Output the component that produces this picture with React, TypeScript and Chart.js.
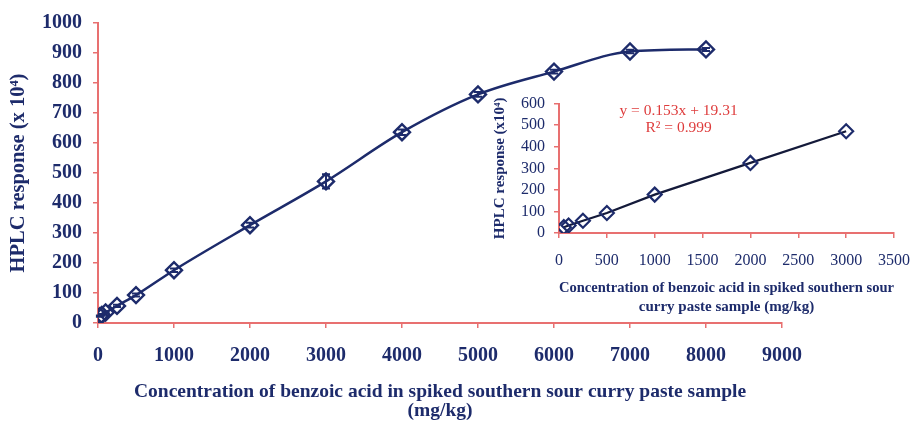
import React, { useEffect, useRef } from "react";
import { Chart, registerables } from "chart.js";

Chart.register(...registerables);

// Main chart data
const concentrations = [25, 50, 100, 250, 500, 1000, 2000, 3000, 4000, 5000, 6000, 7000, 8000];
const responses = [23, 27, 35, 57, 93, 176, 326, 472, 636, 762, 838, 905, 912];
const responseErrors = [2, 3, 3, 4, 5, 6, 8, 24, 9, 8, 6, 6, 5];

// Inset (linear range) data
const insetConcentrations = [50, 100, 250, 500, 1000, 2000, 3000];
const insetResponses = [27, 35, 57, 93, 178, 325, 472];

const mainXTicks = [0, 1000, 2000, 3000, 4000, 5000, 6000, 7000, 8000, 9000];
const mainYTicks = [0, 100, 200, 300, 400, 500, 600, 700, 800, 900, 1000];
const insetXTicks = [0, 500, 1000, 1500, 2000, 2500, 3000, 3500];
const insetYTicks = [0, 100, 200, 300, 400, 500, 600];

const equationLines = ["y = 0.153x + 19.31", "R\u00b2 = 0.999"];

const NAVY = "#1d2b6b";
const AXIS = "rgb(232,112,112)";
const SERIF = "'Liberation Serif', 'DejaVu Serif', serif";

const errorBarPlugin = {
  id: "errorBars",
  afterDatasetsDraw(chart: any) {
    const ds = chart.data.datasets[0];
    const errs: number[] = ds.errors || [];
    const xs = chart.scales.x;
    const ys = chart.scales.y;
    const ctx = chart.ctx;
    ctx.save();
    ctx.strokeStyle = NAVY;
    ctx.lineWidth = 2;
    ds.data.forEach((p: any, i: number) => {
      const e = errs[i];
      if (!e) return;
      const px = xs.getPixelForValue(p.x);
      const top = ys.getPixelForValue(p.y + e);
      const bot = ys.getPixelForValue(p.y - e);
      ctx.beginPath();
      ctx.moveTo(px, top);
      ctx.lineTo(px, bot);
      ctx.moveTo(px - 4, top);
      ctx.lineTo(px + 4, top);
      ctx.moveTo(px - 4, bot);
      ctx.lineTo(px + 4, bot);
      ctx.stroke();
    });
    ctx.restore();
  },
};

const equationPlugin = {
  id: "equation",
  afterDraw(chart: any) {
    const { ctx, chartArea } = chart;
    ctx.save();
    ctx.fillStyle = "rgb(222,60,60)";
    ctx.font = `15.5px ${SERIF}`;
    ctx.textAlign = "center";
    ctx.textBaseline = "middle";
    const cx = chartArea.left + (chartArea.right - chartArea.left) * 0.357;
    const cy = chartArea.top + 7;
    equationLines.forEach((t, i) => ctx.fillText(t, cx, cy + i * 17));
    ctx.restore();
  },
};

function axisCommon(fontSize: number, bold: boolean, tickLen: number, pad: number, ticks: number[]) {
  return {
    grid: { display: true, drawOnChartArea: false, drawTicks: true, tickLength: tickLen, color: AXIS, lineWidth: 1.5 },
    border: { display: true, color: AXIS, width: 2 },
    afterBuildTicks: (scale: any) => {
      scale.ticks = ticks.map((v) => ({ value: v }));
    },
    ticks: {
      color: NAVY,
      padding: pad,
      autoSkip: false,
      maxRotation: 0,
      callback: (v: any) => String(v),
      font: { family: SERIF, size: fontSize, weight: bold ? "bold" : "normal" },
    },
  };
}

export default function App() {
  const mainRef = useRef<HTMLCanvasElement>(null);
  const insetRef = useRef<HTMLCanvasElement>(null);

  useEffect(() => {
    const mainChart = new Chart(mainRef.current as HTMLCanvasElement, {
      type: "scatter",
      data: {
        datasets: [
          {
            data: concentrations.map((x, i) => ({ x, y: responses[i] })),
            errors: responseErrors,
            showLine: true,
            cubicInterpolationMode: "monotone",
            borderColor: NAVY,
            borderWidth: 2.5,
            pointStyle: "rectRot",
            pointRadius: 8,
            pointBorderWidth: 2.4,
            pointBorderColor: NAVY,
            pointBackgroundColor: "rgba(255,255,255,0)",
          } as any,
        ],
      },
      options: {
        responsive: false,
        animation: false,
        layout: { padding: { top: 22, right: 141, left: 0, bottom: 0 } },
        plugins: { legend: { display: false }, tooltip: { enabled: false } },
        scales: {
          x: {
            type: "linear",
            min: 0,
            max: 9000,
            ...axisCommon(20, true, 5, 16, mainXTicks),
            afterFit: (s: any) => {
              s.height = 100;
            },
            title: {
              display: true,
              text: ["Concentration of benzoic acid in spiked southern sour curry paste sample", "(mg/kg)"],
              color: NAVY,
              padding: { top: 0, bottom: 3 },
              font: { family: SERIF, size: 19.5, weight: "bold", lineHeight: 0.95 },
            },
          },
          y: {
            type: "linear",
            min: 0,
            max: 1000,
            ...axisCommon(20, true, 5, 11, mainYTicks),
            afterFit: (s: any) => {
              s.width = 98;
            },
            title: {
              display: true,
              text: "HPLC response (x 10\u2074)",
              color: NAVY,
              padding: { top: 6, bottom: 0 },
              font: { family: SERIF, size: 20.5, weight: "bold", lineHeight: 1.2 },
            },
          },
        },
      } as any,
      plugins: [errorBarPlugin],
    });

    const insetChart = new Chart(insetRef.current as HTMLCanvasElement, {
      type: "scatter",
      data: {
        datasets: [
          {
            data: insetConcentrations.map((x, i) => ({ x, y: insetResponses[i] })),
            showLine: true,
            borderColor: "#141a3a",
            borderWidth: 2.2,
            pointStyle: "rectRot",
            pointRadius: 7,
            pointBorderWidth: 2.2,
            pointBorderColor: NAVY,
            pointBackgroundColor: "rgba(255,255,255,0)",
          } as any,
        ],
      },
      options: {
        responsive: false,
        animation: false,
        layout: { padding: { top: 13, right: 16, left: 0, bottom: 0 } },
        plugins: { legend: { display: false }, tooltip: { enabled: false } },
        scales: {
          x: {
            type: "linear",
            min: 0,
            max: 3500,
            ...axisCommon(16, false, 5, 13, insetXTicks),
            afterFit: (s: any) => {
              s.height = 87;
            },
            title: {
              display: true,
              text: ["Concentration of benzoic acid in spiked southern sour", "curry paste sample (mg/kg)"],
              color: NAVY,
              padding: { top: 0, bottom: 3 },
              font: { family: SERIF, size: 15, weight: "bold", lineHeight: 1.27 },
            },
          },
          y: {
            type: "linear",
            min: 0,
            max: 600,
            ...axisCommon(16, false, 5, 9, insetYTicks),
            afterFit: (s: any) => {
              s.width = 89;
            },
            title: {
              display: true,
              text: "HPLC response (x10\u2074)",
              color: NAVY,
              padding: { top: 21, bottom: 0 },
              font: { family: SERIF, size: 15, weight: "bold", lineHeight: 1.2 },
            },
          },
        },
      } as any,
      plugins: [equationPlugin],
    });

    return () => {
      mainChart.destroy();
      insetChart.destroy();
    };
  }, []);

  return (
    <div style={{ position: "absolute", left: 0, top: 0, width: 923, height: 423, background: "#fff" }}>
      <canvas ref={mainRef} width={923} height={423} style={{ position: "absolute", left: 0, top: 0 }} />
      <canvas ref={insetRef} width={453} height={235} style={{ position: "absolute", left: 470, top: 85 }} />
    </div>
  );
}
